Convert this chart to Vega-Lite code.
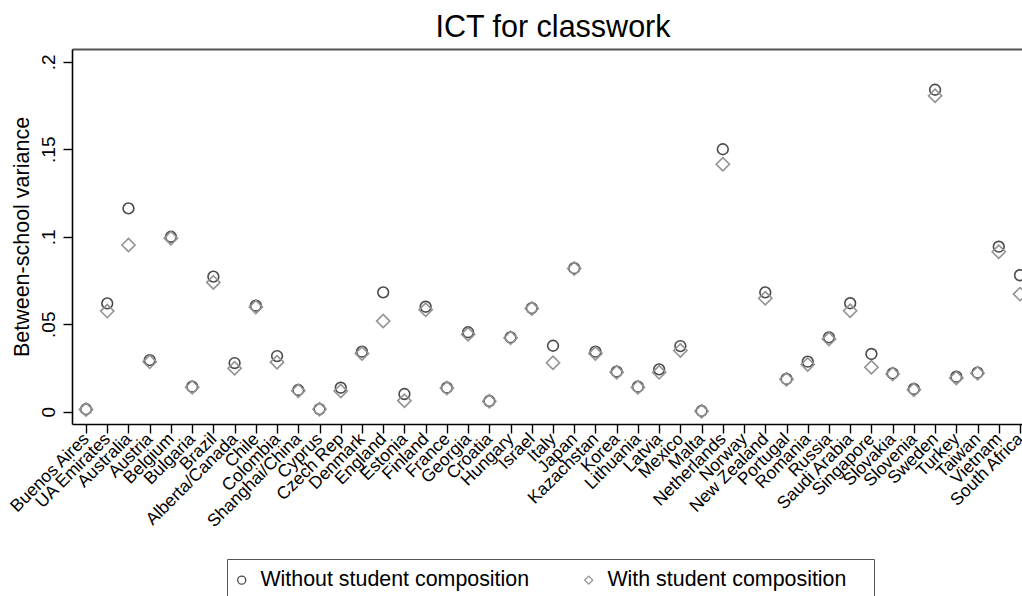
{
  "$schema": "https://vega.github.io/schema/vega-lite/v6.json",
  "width": 950,
  "height": 375,
  "autosize": {"type": "none"},
  "padding": {"left": 72, "top": 49, "right": 0, "bottom": 172},
  "background": "white",
  "config": {
    "font": "Liberation Sans",
    "view": {"stroke": null},
    "axis": {"grid": false, "labelColor": "black", "titleColor": "black", "domainColor": "black", "tickColor": "black", "domainWidth": 1.6, "tickWidth": 1.4, "labelFont": "Liberation Sans", "titleFont": "Liberation Sans", "titleFontWeight": "normal"}
  },
  "title": {"text": "ICT for classwork", "fontSize": 30.5, "fontWeight": "normal", "font": "Liberation Sans", "color": "black", "anchor": "middle", "dx": 6, "offset": 6},
  "data": {"values": [
    {"country": "Buenos Aires", "Without student composition": 0.0014, "With student composition": 0.0013},
    {"country": "UA Emirates", "Without student composition": 0.0619, "With student composition": 0.0575},
    {"country": "Australia", "Without student composition": 0.1162, "With student composition": 0.0953},
    {"country": "Austria", "Without student composition": 0.0295, "With student composition": 0.0285},
    {"country": "Belgium", "Without student composition": 0.1000, "With student composition": 0.0992},
    {"country": "Bulgaria", "Without student composition": 0.0143, "With student composition": 0.0140},
    {"country": "Brazil", "Without student composition": 0.0772, "With student composition": 0.0739},
    {"country": "Alberta/Canada", "Without student composition": 0.0278, "With student composition": 0.0248},
    {"country": "Chile", "Without student composition": 0.0606, "With student composition": 0.0598},
    {"country": "Colombia", "Without student composition": 0.0318, "With student composition": 0.0283},
    {"country": "Shanghai/China", "Without student composition": 0.0124, "With student composition": 0.0120},
    {"country": "Cyprus", "Without student composition": 0.0015, "With student composition": 0.0014},
    {"country": "Czech Rep", "Without student composition": 0.0137, "With student composition": 0.0118},
    {"country": "Denmark", "Without student composition": 0.0343, "With student composition": 0.0333},
    {"country": "England", "Without student composition": 0.0682, "With student composition": 0.0518},
    {"country": "Estonia", "Without student composition": 0.0101, "With student composition": 0.0063},
    {"country": "Finland", "Without student composition": 0.0600, "With student composition": 0.0583},
    {"country": "France", "Without student composition": 0.0137, "With student composition": 0.0135},
    {"country": "Georgia", "Without student composition": 0.0454, "With student composition": 0.0443},
    {"country": "Croatia", "Without student composition": 0.0061, "With student composition": 0.0060},
    {"country": "Hungary", "Without student composition": 0.0425, "With student composition": 0.0422},
    {"country": "Israel", "Without student composition": 0.0592, "With student composition": 0.0590},
    {"country": "Italy", "Without student composition": 0.0377, "With student composition": 0.0280},
    {"country": "Japan", "Without student composition": 0.0820, "With student composition": 0.0818},
    {"country": "Kazachstan", "Without student composition": 0.0343, "With student composition": 0.0333},
    {"country": "Korea", "Without student composition": 0.0229, "With student composition": 0.0225},
    {"country": "Lithuania", "Without student composition": 0.0143, "With student composition": 0.0140},
    {"country": "Latvia", "Without student composition": 0.0242, "With student composition": 0.0225},
    {"country": "Mexico", "Without student composition": 0.0375, "With student composition": 0.0350},
    {"country": "Malta", "Without student composition": 0.0004, "With student composition": 0.0003},
    {"country": "Netherlands", "Without student composition": 0.1500, "With student composition": 0.1414},
    {"country": "Norway", "Without student composition": null, "With student composition": null},
    {"country": "New Zealand", "Without student composition": 0.0682, "With student composition": 0.0648},
    {"country": "Portugal", "Without student composition": 0.0187, "With student composition": 0.0185},
    {"country": "Romania", "Without student composition": 0.0286, "With student composition": 0.0270},
    {"country": "Russia", "Without student composition": 0.0425, "With student composition": 0.0415},
    {"country": "Saudi Arabia", "Without student composition": 0.0620, "With student composition": 0.0577},
    {"country": "Singapore", "Without student composition": 0.0330, "With student composition": 0.0254},
    {"country": "Slovakia", "Without student composition": 0.0219, "With student composition": 0.0215},
    {"country": "Slovenia", "Without student composition": 0.0130, "With student composition": 0.0125},
    {"country": "Sweden", "Without student composition": 0.1840, "With student composition": 0.1806},
    {"country": "Turkey", "Without student composition": 0.0200, "With student composition": 0.0193},
    {"country": "Taiwan", "Without student composition": 0.0223, "With student composition": 0.0220},
    {"country": "Vietnam", "Without student composition": 0.0943, "With student composition": 0.0914},
    {"country": "South Africa", "Without student composition": 0.0780, "With student composition": 0.0672}
  ]},
  "transform": [
    {"fold": ["Without student composition", "With student composition"], "as": ["series", "value"]}
  ],
  "resolve": {"axis": {"x": "independent"}},
  "layer": [
    {
      "mark": {"type": "point", "filled": false, "strokeWidth": 1.6, "opacity": 1},
      "encoding": {
        "x": {
          "field": "country", "type": "nominal",
          "scale": {"domain": ["Buenos Aires", "UA Emirates", "Australia", "Austria", "Belgium", "Bulgaria", "Brazil", "Alberta/Canada", "Chile", "Colombia", "Shanghai/China", "Cyprus", "Czech Rep", "Denmark", "England", "Estonia", "Finland", "France", "Georgia", "Croatia", "Hungary", "Israel", "Italy", "Japan", "Kazachstan", "Korea", "Lithuania", "Latvia", "Mexico", "Malta", "Netherlands", "Norway", "New Zealand", "Portugal", "Romania", "Russia", "Saudi Arabia", "Singapore", "Slovakia", "Slovenia", "Sweden", "Turkey", "Taiwan", "Vietnam", "South Africa"], "padding": 0.3775, "align": 0.875},
          "axis": {"orient": "bottom", "title": null, "labelAngle": -45, "labelAlign": "right", "labelBaseline": "middle", "labelFontSize": 17.5, "labelPadding": 3, "tickSize": 9, "labelOverlap": false, "labelLimit": 300}
        },
        "y": {
          "field": "value", "type": "quantitative",
          "scale": {"domain": [-0.00703, 0.2073], "nice": false, "zero": false},
          "axis": {"title": "Between-school variance", "titleFontSize": 21.5, "titlePadding": 6, "values": [0, 0.05, 0.1, 0.15, 0.2], "labelExpr": "datum.value == 0 ? '0' : replace(toString(datum.value), '0.', '.')", "labelAngle": -90, "labelAlign": "center", "labelBaseline": "alphabetic", "labelFontSize": 19, "labelPadding": 9, "tickSize": 9}
        },
        "color": {
          "field": "series", "type": "nominal",
          "scale": {"domain": ["Without student composition", "With student composition"], "range": ["#4a4a4a", "#939393"]},
          "legend": {"title": " ", "titleOrient": "right", "titleFontSize": 20, "titlePadding": 18, "orient": "none", "legendX": 155, "legendY": 510, "direction": "horizontal", "strokeColor": "#555555", "padding": 10, "labelFontSize": 21.4, "labelFont": "Liberation Sans", "labelColor": "black", "symbolSize": 64, "symbolStrokeWidth": 1.3, "symbolOffset": -6, "labelOffset": 8, "columnPadding": 52, "labelLimit": 400}
        },
        "shape": {
          "field": "series", "type": "nominal",
          "scale": {"domain": ["Without student composition", "With student composition"], "range": ["circle", "diamond"]}
        },
        "size": {
          "condition": {"test": "datum.series == 'With student composition'", "value": 175},
          "value": 115
        }
      }
    },
    {
      "mark": {"type": "point", "opacity": 0},
      "encoding": {
        "x": {
          "field": "country", "type": "nominal",
          "axis": {"orient": "top", "title": null, "labels": false, "ticks": false, "domainColor": "#555555", "domainWidth": 2}
        }
      }
    }
  ]
}
